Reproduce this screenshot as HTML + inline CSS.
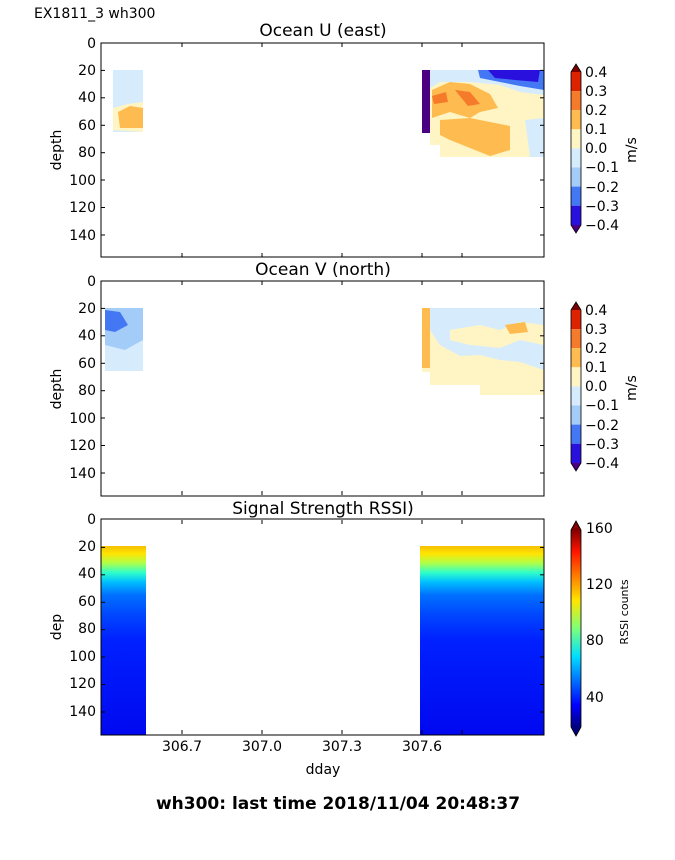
<!DOCTYPE html>
<html><head><style>
body{margin:0;background:#fff;}
svg text{font-family:"DejaVu Sans","Liberation Sans",sans-serif;}
</style></head><body>
<svg width="675" height="855" viewBox="0 0 675 855" xmlns="http://www.w3.org/2000/svg">
<defs>
<linearGradient id="jet" x1="0" y1="1" x2="0" y2="0">
<stop offset="0" stop-color="#00007f"/>
<stop offset="0.11" stop-color="#0000ff"/>
<stop offset="0.36" stop-color="#00e0ff"/>
<stop offset="0.5" stop-color="#7dff7a"/>
<stop offset="0.64" stop-color="#ffe600"/>
<stop offset="0.89" stop-color="#ff1400"/>
<stop offset="1" stop-color="#7f0000"/>
</linearGradient>
<linearGradient id="rssiR" x1="0" y1="0" x2="0" y2="1">
<stop offset="0" stop-color="#f5c000"/>
<stop offset="0.04" stop-color="#ffe400"/>
<stop offset="0.09" stop-color="#b0ff48"/>
<stop offset="0.14" stop-color="#30ffc8"/>
<stop offset="0.19" stop-color="#00c0ff"/>
<stop offset="0.26" stop-color="#0070ff"/>
<stop offset="0.36" stop-color="#0048ff"/>
<stop offset="0.5" stop-color="#0020ff"/>
<stop offset="1" stop-color="#0008f0"/>
</linearGradient>
</defs>
<text x="34" y="18" font-size="14">EX1811_3 wh300</text>

<!-- Panel 1 -->
<text x="323" y="36" font-size="17" text-anchor="middle">Ocean U (east)</text>
<g>
<rect x="113" y="70" width="30" height="62" fill="#d6ecfc"/>
<polygon points="113,108 128,104 143,102 143,132 113,130" fill="#fff4c4"/>
<polygon points="118,112 130,106 143,108 143,128 120,128" fill="#fdbb50"/>
<rect x="422" y="70" width="8" height="63" fill="#4b0082"/>
<rect x="430" y="70" width="114" height="87" fill="#fff4c4"/>
<polygon points="430,70 544,70 544,95 520,92 500,85 470,82 440,82 430,88" fill="#d6ecfc"/>
<polygon points="478,70 544,70 544,90 520,86 500,82 480,78" fill="#4477f4"/>
<polygon points="488,70 540,70 538,82 515,80 495,78" fill="#2a10dc"/>
<polygon points="432,90 450,82 470,84 490,94 498,108 480,112 470,118 450,112 432,118" fill="#fdbb50"/>
<polygon points="440,120 470,118 490,122 510,126 510,150 490,156 470,148 450,140 440,135" fill="#fdbb50"/>
<polygon points="455,90 470,92 480,104 468,106" fill="#f57a2a"/>
<polygon points="432,96 446,92 448,102 434,104" fill="#f57a2a"/>
<polygon points="525,120 544,118 544,157 530,157" fill="#d6ecfc"/>
<rect x="430" y="145" width="10" height="12" fill="#fff"/>
</g>
<rect x="101" y="43" width="443" height="214" fill="none" stroke="#000" stroke-width="1"/>

<!-- Panel 2 -->
<text x="323" y="275" font-size="17" text-anchor="middle">Ocean V (north)</text>
<g>
<rect x="105" y="308" width="38" height="63" fill="#d6ecfc"/>
<polygon points="105,308 143,308 143,340 125,350 105,345" fill="#a3cdf8"/>
<polygon points="105,310 120,312 128,325 115,332 105,330" fill="#4477f4"/>
<rect x="422" y="308" width="122" height="87" fill="#fff4c4"/>
<polygon points="430,308 544,308 544,370 520,362 500,360 480,355 460,356 440,345 430,330" fill="#d6ecfc"/>
<polygon points="450,330 480,325 500,330 520,322 544,325 544,345 520,340 500,348 470,345 450,340" fill="#fff4c4"/>
<rect x="422" y="308" width="8" height="60" fill="#fdbb50"/>
<polygon points="505,325 525,322 528,332 510,334" fill="#fdbb50"/>
<rect x="422" y="372" width="8" height="23" fill="#fff"/>
<rect x="430" y="385" width="50" height="10" fill="#fff"/>
</g>
<rect x="101" y="281" width="443" height="215" fill="none" stroke="#000" stroke-width="1"/>

<!-- Panel 3 -->
<text x="323" y="514" font-size="17" text-anchor="middle">Signal Strength RSSI)</text>
<rect x="101" y="546" width="45" height="189" fill="url(#rssiR)"/>
<rect x="420" y="546" width="124" height="189" fill="url(#rssiR)"/>
<rect x="101" y="519" width="443" height="216" fill="none" stroke="#000" stroke-width="1"/>

<!-- y ticks -->
<g font-size="14" text-anchor="end">
<g id="yt">
<text x="96" y="48">0</text><text x="96" y="75">20</text><text x="96" y="102">40</text><text x="96" y="130">60</text><text x="96" y="157">80</text><text x="96" y="185">100</text><text x="96" y="212">120</text><text x="96" y="240">140</text>
</g>
<use href="#yt" y="238"/>
<use href="#yt" y="476"/>
</g>
<g stroke="#000">
<g id="tk">
<line x1="101" y1="70.4" x2="105" y2="70.4"/><line x1="101" y1="97.8" x2="105" y2="97.8"/><line x1="101" y1="125.3" x2="105" y2="125.3"/><line x1="101" y1="152.7" x2="105" y2="152.7"/><line x1="101" y1="180" x2="105" y2="180"/><line x1="101" y1="207.5" x2="105" y2="207.5"/><line x1="101" y1="235" x2="105" y2="235"/>
<line x1="544" y1="70.4" x2="540" y2="70.4"/><line x1="544" y1="97.8" x2="540" y2="97.8"/><line x1="544" y1="125.3" x2="540" y2="125.3"/><line x1="544" y1="152.7" x2="540" y2="152.7"/><line x1="544" y1="180" x2="540" y2="180"/><line x1="544" y1="207.5" x2="540" y2="207.5"/><line x1="544" y1="235" x2="540" y2="235"/>
<line x1="182" y1="43" x2="182" y2="47"/><line x1="262" y1="43" x2="262" y2="47"/><line x1="342" y1="43" x2="342" y2="47"/><line x1="462" y1="43" x2="462" y2="47"/><line x1="422" y1="43" x2="422" y2="47"/>
<line x1="182" y1="257" x2="182" y2="253"/><line x1="262" y1="257" x2="262" y2="253"/><line x1="342" y1="257" x2="342" y2="253"/><line x1="422" y1="257" x2="422" y2="253"/><line x1="462" y1="257" x2="462" y2="253"/>
</g>
<use href="#tk" y="238"/>
<use href="#tk" y="477"/>
</g>
<g font-size="14" text-anchor="middle">
<text x="182" y="751">306.7</text><text x="262" y="751">307.0</text><text x="342" y="751">307.3</text><text x="422" y="751">307.6</text>
<text x="323" y="774">dday</text>
</g>
<g font-size="14" text-anchor="middle">
<text transform="translate(61,150) rotate(-90)">depth</text>
<text transform="translate(61,389) rotate(-90)">depth</text>
<text transform="translate(61,627) rotate(-90)">dep</text>
</g>

<!-- colorbars U/V -->
<g id="cb">
<polygon points="571,72 576,64 581,72" fill="#7a0000"/>
<rect x="571" y="72" width="10" height="19.1" fill="#dd2200"/>
<rect x="571" y="91.1" width="10" height="19.1" fill="#f57a2a"/>
<rect x="571" y="110.2" width="10" height="19.1" fill="#fdbb50"/>
<rect x="571" y="129.3" width="10" height="19.1" fill="#fff4c4"/>
<rect x="571" y="148.4" width="10" height="19.1" fill="#d6ecfc"/>
<rect x="571" y="167.5" width="10" height="19.1" fill="#a3cdf8"/>
<rect x="571" y="186.6" width="10" height="19.1" fill="#4477f4"/>
<rect x="571" y="205.7" width="10" height="19.3" fill="#2a10dc"/>
<polygon points="571,225 576,233 581,225" fill="#4b0082"/>
<polygon points="571,72 576,64 581,72 581,225 576,233 571,225" fill="none" stroke="#000" stroke-width="0.8"/>
<g font-size="14">
<text x="585" y="77">0.4</text><text x="585" y="96">0.3</text><text x="585" y="115">0.2</text><text x="585" y="134">0.1</text><text x="585" y="153">0.0</text><text x="585" y="172">−0.1</text><text x="585" y="192">−0.2</text><text x="585" y="211">−0.3</text><text x="585" y="230">−0.4</text>
</g>
<text transform="translate(636,150) rotate(-90)" font-size="14" text-anchor="middle">m/s</text>
</g>
<use href="#cb" y="238"/>

<!-- RSSI colorbar -->
<rect x="571" y="530" width="10" height="197" fill="url(#jet)"/>
<polygon points="571,530 576,521 581,530" fill="#7f0000"/>
<polygon points="571,727 576,736 581,727" fill="#00007f"/>
<polygon points="571,530 576,521 581,530 581,727 576,736 571,727" fill="none" stroke="#000" stroke-width="0.8"/>
<g font-size="14">
<text x="586" y="533">160</text><text x="586" y="589">120</text><text x="586" y="645">80</text><text x="586" y="702">40</text>
</g>
<text transform="translate(628,612) rotate(-90)" font-size="11" text-anchor="middle">RSSI counts</text>

<text x="338" y="809" font-size="17" font-weight="bold" text-anchor="middle">wh300: last time 2018/11/04 20:48:37</text>
</svg>
</body></html>
